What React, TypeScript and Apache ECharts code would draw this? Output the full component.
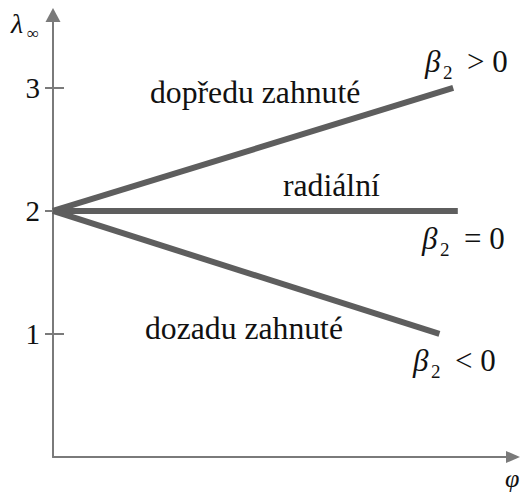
import React, { useEffect, useRef } from "react";
import * as echarts from "echarts";

// Blade-outlet characteristics: λ∞ versus φ for three outlet angle cases
const curveNames = ["dopředu zahnuté", "radiální", "dozadu zahnuté"];
const startPhi = 0;
const startLambda = 2;
const endPhi = [87, 88, 84];
const endLambda = [3, 2, 1];
const yTickValues = [1, 2, 3];

const SERIF = "'Liberation Serif', 'Times New Roman', serif";
const AXIS_GRAY = "#7a7a7a";
const LINE_GRAY = "#5e5e5e";

const Y_MAX = 3.593;
const X_MAX = 100;

function txt(
  text: string,
  x: number,
  y: number,
  size: number,
  italic = false,
  align: "left" | "right" | "center" = "left"
) {
  return {
    type: "text",
    x,
    y,
    silent: true,
    style: {
      text,
      fontFamily: SERIF,
      fontSize: size,
      fontStyle: italic ? "italic" : "normal",
      fill: "#111",
      align,
      verticalAlign: "middle",
    },
  };
}

function betaLabel(x: number, y: number, rel: string) {
  return [
    txt("β", x, y, 31, true),
    txt("2", x + 18, y + 11, 19),
    txt(rel, x + 42, y, 31),
  ];
}

export default function App() {
  const ref = useRef<HTMLDivElement>(null);

  useEffect(() => {
    document.body.style.margin = "0";
    if (!ref.current) return;
    const chart = echarts.init(ref.current, null, { renderer: "svg" });

    const series = curveNames.map((name, i) => ({
      name,
      type: "line",
      symbol: "none",
      silent: true,
      lineStyle: { width: 6, color: LINE_GRAY, cap: "butt" },
      data: [
        [startPhi, startLambda],
        [endPhi[i], endLambda[i]],
      ],
    }));

    const yBase = {
      type: "value",
      min: 0,
      max: Y_MAX,
      position: "left",
      splitLine: { show: false },
    };

    chart.setOption({
      animation: false,
      backgroundColor: "#fff",
      grid: { left: 53, right: 10, top: 15, bottom: 35, containLabel: false },
      xAxis: {
        type: "value",
        min: 0,
        max: X_MAX,
        axisLine: {
          show: true,
          symbol: ["none", "triangle"],
          symbolSize: [12, 14],
          lineStyle: { color: AXIS_GRAY, width: 2 },
        },
        axisTick: { show: false },
        axisLabel: { show: false },
        splitLine: { show: false },
      },
      yAxis: [
        {
          ...yBase,
          axisLine: {
            show: true,
            symbol: ["none", "triangle"],
            symbolSize: [15, 14],
            lineStyle: { color: AXIS_GRAY, width: 2 },
          },
          axisTick: {
            show: true,
            length: 8,
            customValues: yTickValues,
            lineStyle: { color: AXIS_GRAY, width: 2 },
          },
          axisLabel: {
            show: true,
            customValues: yTickValues,
            margin: 13,
            fontFamily: SERIF,
            fontSize: 29,
            color: "#111",
          },
        },
        {
          ...yBase,
          axisLine: { show: false },
          axisTick: {
            show: true,
            inside: true,
            length: 11,
            customValues: yTickValues,
            lineStyle: { color: AXIS_GRAY, width: 2 },
          },
          axisLabel: { show: false },
        },
      ],
      series,
      graphic: [
        txt("λ", 11, 23, 28, true),
        txt("∞", 27, 33, 17),
        txt("φ", 505, 478, 26, true),
        txt(curveNames[0], 150, 92, 31.7),
        txt(curveNames[1], 283, 185, 31.7),
        txt(curveNames[2], 145, 328, 31.7),
        ...betaLabel(425, 61, "> 0"),
        ...betaLabel(422, 238, "= 0"),
        ...betaLabel(413, 360, "< 0"),
      ],
    });

    return () => chart.dispose();
  }, []);

  return <div ref={ref} style={{ width: 523, height: 492 }} />;
}
